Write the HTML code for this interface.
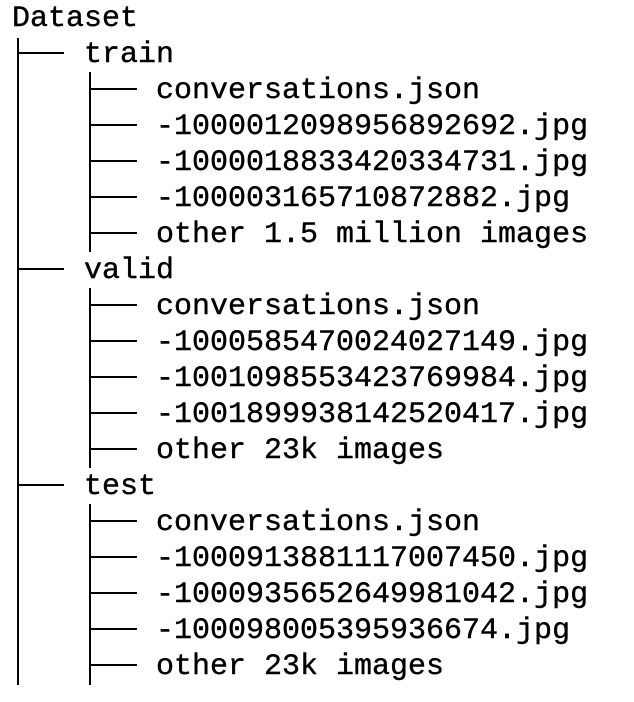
<!DOCTYPE html>
<html><head><meta charset="utf-8"><style>
html,body{margin:0;padding:0;background:#fff;}
body{width:634px;height:702px;position:relative;overflow:hidden;}
.t{position:absolute;font-family:"Liberation Mono","DejaVu Sans Mono",monospace;font-size:30px;letter-spacing:0;color:#000;line-height:36px;white-space:pre;-webkit-text-stroke:0.4px #000;margin-top:2px;}
</style></head><body>
<svg width="634" height="702" style="position:absolute;left:0;top:0" stroke="#000" stroke-width="2">
<line x1="18" y1="38" x2="18" y2="685"/>
<line x1="18" y1="53" x2="64" y2="53"/>
<line x1="18" y1="269" x2="64" y2="269"/>
<line x1="18" y1="485" x2="64" y2="485"/>
<line x1="90" y1="72" x2="90" y2="252"/>
<line x1="90" y1="288" x2="90" y2="468"/>
<line x1="90" y1="504" x2="90" y2="685"/>
<g>
<line x1="90" y1="89" x2="137" y2="89"/><line x1="90" y1="125" x2="137" y2="125"/><line x1="90" y1="161" x2="137" y2="161"/><line x1="90" y1="197" x2="137" y2="197"/><line x1="90" y1="233" x2="137" y2="233"/>
<line x1="90" y1="305" x2="137" y2="305"/><line x1="90" y1="341" x2="137" y2="341"/><line x1="90" y1="377" x2="137" y2="377"/><line x1="90" y1="413" x2="137" y2="413"/><line x1="90" y1="449" x2="137" y2="449"/>
<line x1="90" y1="521" x2="137" y2="521"/><line x1="90" y1="557" x2="137" y2="557"/><line x1="90" y1="593" x2="137" y2="593"/><line x1="90" y1="629" x2="137" y2="629"/><line x1="90" y1="665" x2="137" y2="665"/>
</g>
</svg>
<div class="t" style="left:12px;top:-1px">Dataset</div>
<div class="t" style="left:84px;top:35px">train</div>
<div class="t" style="left:156px;top:71px">conversations.json</div>
<div class="t" style="left:156px;top:107px">-1000012098956892692.jpg</div>
<div class="t" style="left:156px;top:143px">-1000018833420334731.jpg</div>
<div class="t" style="left:156px;top:179px">-100003165710872882.jpg</div>
<div class="t" style="left:156px;top:215px">other 1.5 million images</div>
<div class="t" style="left:84px;top:251px">valid</div>
<div class="t" style="left:156px;top:287px">conversations.json</div>
<div class="t" style="left:156px;top:323px">-1000585470024027149.jpg</div>
<div class="t" style="left:156px;top:359px">-1001098553423769984.jpg</div>
<div class="t" style="left:156px;top:395px">-1001899938142520417.jpg</div>
<div class="t" style="left:156px;top:431px">other 23k images</div>
<div class="t" style="left:84px;top:467px">test</div>
<div class="t" style="left:156px;top:503px">conversations.json</div>
<div class="t" style="left:156px;top:539px">-1000913881117007450.jpg</div>
<div class="t" style="left:156px;top:575px">-1000935652649981042.jpg</div>
<div class="t" style="left:156px;top:611px">-100098005395936674.jpg</div>
<div class="t" style="left:156px;top:647px">other 23k images</div>
</body></html>
